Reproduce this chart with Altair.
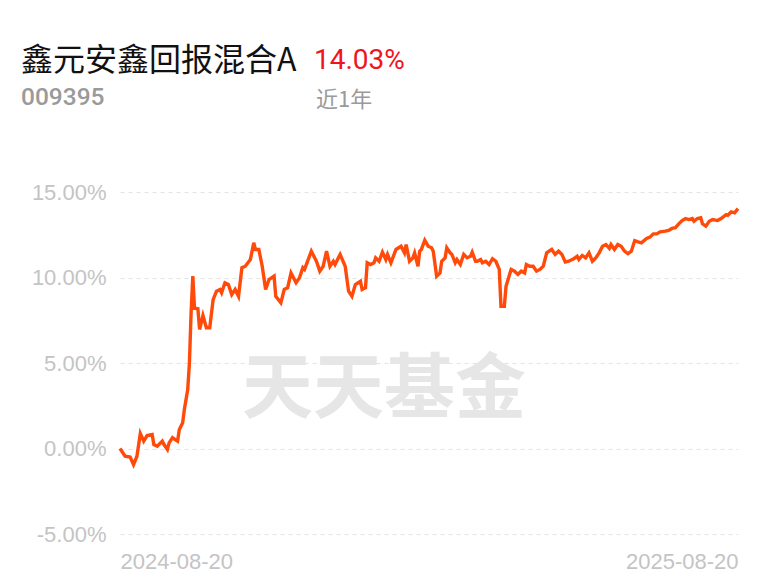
import altair as alt
import pandas as pd

fund_name = "鑫元安鑫回报混合A"
fund_code = "009395"
period_label = "近1年"
watermark = "天天基金"
start_date = "2024-08-20"
end_date = "2025-08-20"

# trading-day offsets (days since start_date) and cumulative return (%)
day_offsets = [
    0, 3, 6, 8, 10, 12, 14, 16, 19, 20, 22, 25, 26, 28, 29, 31, 34, 35, 37, 38,
    40, 41, 42, 43, 44, 46, 47, 49, 51, 53, 55, 57, 59, 60, 62, 64, 66, 68, 70, 72,
    74, 77, 79, 80, 82, 84, 86, 88, 91, 92, 95, 97, 99, 101, 104, 106, 108, 109, 113, 116,
    118, 120, 122, 124, 126, 127, 130, 133, 135, 137, 139, 142, 143, 145, 146, 148, 150, 151, 153, 155,
    157, 158, 160, 163, 166, 168, 169, 171, 173, 174, 176, 177, 178, 180, 182, 184, 185, 187, 189, 190,
    192, 193, 195, 196, 198, 199, 201, 203, 205, 207, 208, 210, 211, 213, 214, 216, 218, 220, 222, 224,
    225, 227, 228, 231, 233, 235, 237, 239, 240, 242, 244, 246, 248, 250, 252, 255, 257, 259, 261, 263,
    265, 268, 270, 271, 273, 275, 277, 279, 281, 283, 285, 287, 289, 290, 292, 294, 296, 298, 300, 302,
    304, 306, 308, 311, 313, 315, 317, 319, 322, 324, 326, 328, 330, 332, 334, 336, 338, 339, 341, 343,
    344, 346, 348, 350, 353, 355, 358, 359, 361, 363, 365,
]
returns_pct = [
    0.00, -0.45, -0.50, -0.94, -0.45, 0.88, 0.43, 0.76, 0.82, 0.23, 0.13, 0.43, 0.23, -0.06, 0.33, 0.63, 0.43, 1.10, 1.50, 2.28,
    3.45, 5.00, 7.95, 10.08, 8.20, 8.17, 6.96, 7.78, 7.06, 7.06, 8.71, 9.20, 9.30, 9.10, 9.69, 9.59, 9.00, 9.30, 8.90, 10.57,
    10.66, 11.05, 12.03, 11.64, 11.64, 10.66, 9.30, 9.88, 10.08, 8.90, 8.52, 9.30, 9.40, 10.27, 9.69, 9.98, 10.57, 10.47, 11.54, 10.95,
    10.37, 10.66, 11.54, 10.66, 10.95, 10.76, 11.35, 10.66, 9.20, 8.90, 9.59, 9.78, 9.30, 9.40, 10.86, 10.76, 10.86, 11.15, 10.95, 11.48,
    11.05, 11.35, 10.86, 11.64, 11.83, 11.44, 11.93, 10.95, 11.15, 11.44, 10.66, 11.54, 11.64, 12.18, 11.83, 11.74, 11.54, 10.08, 10.27, 10.95,
    11.15, 11.74, 11.44, 11.35, 10.86, 11.05, 10.76, 11.35, 11.15, 11.24, 11.48, 10.95, 10.95, 11.05, 10.86, 10.95, 10.76, 11.10, 10.95, 10.47,
    8.32, 8.32, 9.49, 10.47, 10.37, 10.18, 10.37, 10.27, 10.76, 10.66, 10.66, 10.37, 10.47, 10.66, 11.44, 11.64, 11.35, 11.54, 11.35, 10.90,
    10.95, 11.10, 11.24, 11.05, 11.29, 11.15, 11.44, 10.95, 11.15, 11.44, 11.83, 11.93, 11.70, 11.93, 11.64, 11.93, 11.83, 11.54, 11.39, 11.54,
    12.16, 12.09, 12.03, 12.28, 12.36, 12.55, 12.55, 12.67, 12.71, 12.75, 12.87, 12.91, 13.14, 13.33, 13.45, 13.39, 13.45, 13.29, 13.45, 13.49,
    13.14, 13.00, 13.29, 13.39, 13.33, 13.45, 13.68, 13.64, 13.84, 13.78, 14.03,
]
y_ticks = [-5, 0, 5, 10, 15]

start = pd.Timestamp(start_date)
dates = [(start + pd.Timedelta(days=d)).strftime("%Y-%m-%d") for d in day_offsets]
df = pd.DataFrame({"date": dates, "ret": returns_pct})
final_ret = f"{returns_pct[-1]:.2f}%"

label_font = "Liberation Sans"
cjk_font = "Noto Sans CJK SC"

x_enc = alt.X(
    "date:T",
    scale=alt.Scale(type="utc", nice=False),
    axis=alt.Axis(
        title=None,
        values=[alt.DateTime(year=2024, month=8, date=20, utc=True),
                alt.DateTime(year=2025, month=8, date=20, utc=True)],
        labelExpr="utcFormat(datum.value, '%Y-%m-%d')",
        labelFlush=True,
        labelOverlap=False,
        grid=False,
        domain=False,
        ticks=False,
        labelPadding=17,
        labelFont=label_font,
        labelFontSize=22,
        labelColor="#c4c4c4",
    ),
)
y_enc = alt.Y(
    "ret:Q",
    scale=alt.Scale(domain=[-5, 15], nice=False, zero=False),
    axis=alt.Axis(
        title=None,
        values=y_ticks,
        labelExpr="replace(format(datum.value, '.2f'), '\u2212', '-') + '%'",
        grid=True,
        gridColor="#e3e3e3",
        gridDash=[4, 4],
        gridWidth=1.2,
        domain=False,
        ticks=False,
        labelPadding=14,
        labelFont=label_font,
        labelFontSize=22,
        labelColor="#c4c4c4",
    ),
)

wm = alt.Chart(pd.DataFrame({"t": [watermark]})).mark_text(
    font=cjk_font, fontSize=71, fontWeight="bold", color="#e6e6e6",
    align="center", baseline="middle",
).encode(x=alt.value(264), y=alt.value(199), text="t:N")

line = alt.Chart(df).mark_line(color="#ff4a0a", strokeWidth=3.4, interpolate="linear").encode(
    x=x_enc, y=y_enc
)

def label(txt, x, y, size, color, font, weight="normal"):
    return alt.Chart(pd.DataFrame({"t": [txt]})).mark_text(
        font=font, fontSize=size, color=color, fontWeight=weight,
        align="left", baseline="alphabetic",
    ).encode(x=alt.value(x), y=alt.value(y), text="t:N")

t1 = label(fund_name, -99, -121, 32, "#111111", cjk_font)
t2 = label(final_ret, 194, -123, 28, "#f0141e", "Roboto")
t3 = label(fund_code, -99, -87, 24.5, "#9a9a9a", "Roboto", 500)
t4 = label(period_label, 196, -85, 22, "#9a9a9a", cjk_font)

chart = alt.layer(wm, line, t1, t2, t3, t4).properties(
    width=618,
    height=342,
    autosize=alt.AutoSizeParams(type="none"),
    padding={"left": 112, "top": 184, "right": 22, "bottom": 43},
    background="white",
).configure_view(strokeWidth=0, stroke="transparent")

chart.save("out.html", embed_options={"renderer": "svg", "actions": False})
